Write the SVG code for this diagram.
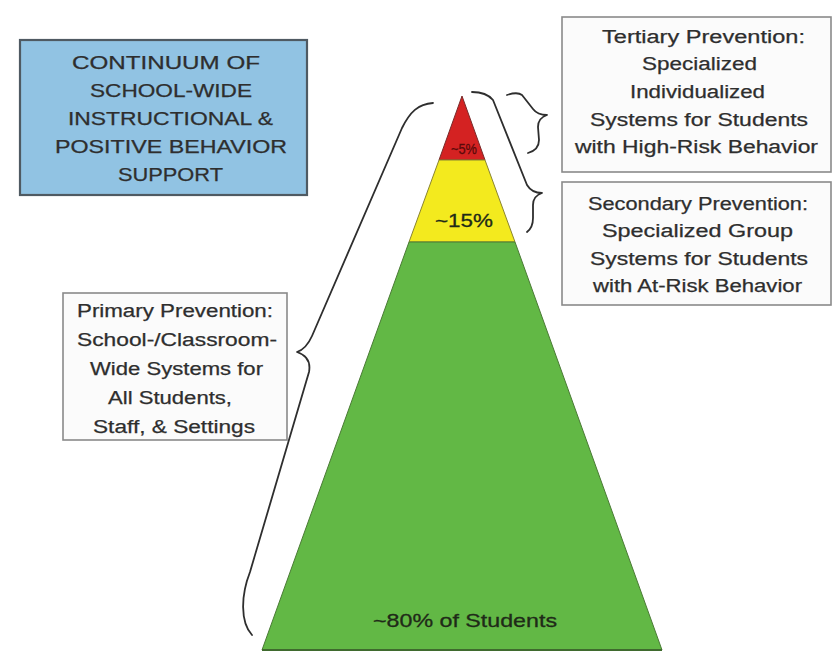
<svg xmlns="http://www.w3.org/2000/svg" width="833" height="661" viewBox="0 0 833 661">
<style>
.t{font-family:"Liberation Sans",Arial,sans-serif;font-size:18px;fill:#2e2e2e;stroke:#2e2e2e;stroke-width:0.25}
.box{fill:#fbfbfb;stroke:#8a8a8a;stroke-width:1.6}
.brace{fill:none;stroke:#2e2e2e;stroke-width:1.8;stroke-linecap:round;stroke-linejoin:round}
.pct{font-family:"Liberation Sans",Arial,sans-serif;font-size:19px;fill:#1f2a18;stroke:#1f2a18;stroke-width:0.3}
</style>
<rect width="833" height="661" fill="#ffffff"/>
<g id="pyramid">
<polygon points="462,96 439,160 485,160" fill="#d42222" stroke="#7a2a2a" stroke-width="1"/>
<polygon points="439,160 485,160 515,242 409,242" fill="#f3ea1e" stroke="#8a8430" stroke-width="1"/>
<polygon points="409,242 515,242 662,650 262,650" fill="#62b845" stroke="#4a7a35" stroke-width="1"/>
<line x1="262" y1="650" x2="662" y2="650" stroke="#3f6a2e" stroke-width="2"/>
<text class="pct" x="451" y="154" style="font-size:15px;fill:#5a0a0a;stroke:#5a0a0a" textLength="26" lengthAdjust="spacingAndGlyphs">~5%</text>
<text class="pct" x="435" y="227" textLength="58" lengthAdjust="spacingAndGlyphs">~15%</text>
<text class="pct" x="373" y="627" textLength="184" lengthAdjust="spacingAndGlyphs">~80% of Students</text>
</g>
<g id="title">
<rect x="20" y="40" width="287" height="155" fill="#91c3e3" stroke="#4f5a62" stroke-width="2.2"/>
<text class="t" x="72" y="69" textLength="188" lengthAdjust="spacingAndGlyphs">CONTINUUM OF</text>
<text class="t" x="90" y="97" textLength="162" lengthAdjust="spacingAndGlyphs">SCHOOL-WIDE</text>
<text class="t" x="68" y="125" textLength="205" lengthAdjust="spacingAndGlyphs">INSTRUCTIONAL &amp;</text>
<text class="t" x="55" y="153" textLength="232" lengthAdjust="spacingAndGlyphs">POSITIVE BEHAVIOR</text>
<text class="t" x="118" y="181" textLength="105" lengthAdjust="spacingAndGlyphs">SUPPORT</text>
</g>
<g id="tertiary">
<rect class="box" x="562" y="17" width="269" height="155"/>
<text class="t" x="602" y="43" textLength="203" lengthAdjust="spacingAndGlyphs">Tertiary Prevention:</text>
<text class="t" x="642" y="70" textLength="115" lengthAdjust="spacingAndGlyphs">Specialized</text>
<text class="t" x="630" y="98" textLength="135" lengthAdjust="spacingAndGlyphs">Individualized</text>
<text class="t" x="590" y="126" textLength="218" lengthAdjust="spacingAndGlyphs">Systems for Students</text>
<text class="t" x="575" y="153" textLength="243" lengthAdjust="spacingAndGlyphs">with High-Risk Behavior</text>
</g>
<g id="secondary">
<rect class="box" x="562" y="182" width="269" height="123"/>
<text class="t" x="588" y="210" textLength="220" lengthAdjust="spacingAndGlyphs">Secondary Prevention:</text>
<text class="t" x="602" y="237" textLength="191" lengthAdjust="spacingAndGlyphs">Specialized Group</text>
<text class="t" x="590" y="265" textLength="218" lengthAdjust="spacingAndGlyphs">Systems for Students</text>
<text class="t" x="593" y="292" textLength="209" lengthAdjust="spacingAndGlyphs">with At-Risk Behavior</text>
</g>
<g id="primary">
<rect class="box" x="63" y="293" width="224" height="147"/>
<text class="t" x="77" y="317" textLength="196" lengthAdjust="spacingAndGlyphs">Primary Prevention:</text>
<text class="t" x="77" y="346" textLength="200" lengthAdjust="spacingAndGlyphs">School-/Classroom-</text>
<text class="t" x="90" y="375" textLength="173" lengthAdjust="spacingAndGlyphs">Wide Systems for</text>
<text class="t" x="108" y="404" textLength="124" lengthAdjust="spacingAndGlyphs">All Students,</text>
<text class="t" x="93" y="433" textLength="162" lengthAdjust="spacingAndGlyphs">Staff, &amp; Settings</text>
</g>
<g id="connectors">
<path class="brace" d="M433,103 C418,104 410,112 402,128 L312,336 C308,345 303,350 297,352 C306,355 311,361 309,372 L250,572 C241,595 240,622 252,635"/>
<path class="brace" d="M472,92 C482,92 488,94 493,100 L527,185 C530,190 535,193 542,193 C536,195 533,199 533,205 L533,218 C533,225 531,229 527,232"/>
<path class="brace" d="M507,95 C513,93 518,92 522,95 L533,109 C536,113 541,115 547,115 C541,117 538,121 538,127 L539,140 C539,146 535,151 528,153"/>
</g>
</svg>
